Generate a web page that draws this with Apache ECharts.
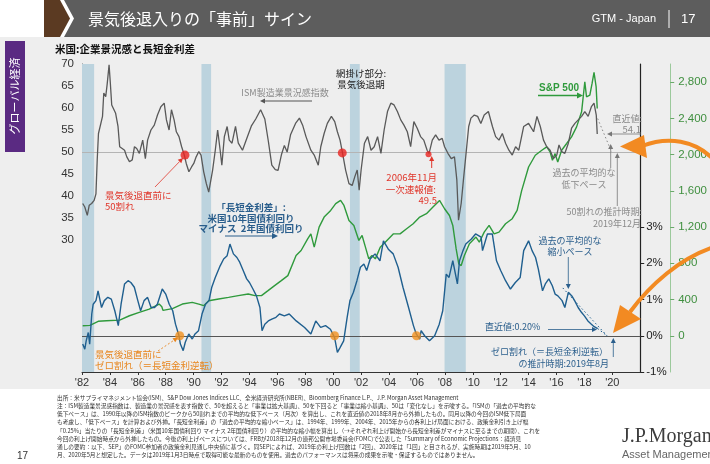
<!DOCTYPE html>
<html><head><meta charset="utf-8">
<script src="https://cdn.jsdelivr.net/npm/echarts@6/dist/echarts.min.js"></script>
<style>html,body{margin:0;padding:0;background:#f1f1f1;}#c{width:710px;height:464px;}</style>
</head><body><div id="c"></div>
<script>
// ---------------- DATA ----------------
const xTickYears = [1982,1984,1986,1988,1990,1992,1994,1996,1998,2000,2002,2004,2006,2008,2010,2012,2014,2016,2018,2020];
const ismTicks = [30,35,40,45,50,55,60,65,70];
const spreadTicks = [-1,0,1,2,3];
const spxTicks = [0,400,800,1200,1600,2000,2400,2800];

const recessionStart = [1982.0, 1990.56, 2001.2, 2007.98];
const recessionEnd   = [1982.87, 1991.25, 2001.9, 2009.5];

// ISM manufacturing index (left axis)
const ismYears = [1982.05,1982.2,1982.38,1982.52,1982.69,1982.87,1983.0,1983.09,1983.18,1983.32,1983.47,1983.56,1983.7,1983.8,1983.94,1984.03,1984.13,1984.27,1984.41,1984.58,1984.7,1984.88,1985.05,1985.21,1985.4,1985.6,1985.76,1985.92,1986.11,1986.35,1986.54,1986.7,1986.94,1987.18,1987.41,1987.65,1987.89,1988.05,1988.24,1988.41,1988.6,1988.76,1988.95,1989.14,1989.33,1989.47,1989.66,1989.85,1990.01,1990.18,1990.37,1990.53,1990.72,1990.91,1991.08,1991.2,1991.36,1991.55,1991.72,1991.9,1992.02,1992.2,1992.4,1992.55,1992.75,1993.0,1993.2,1993.5,1993.8,1994.15,1994.45,1994.8,1995.1,1995.35,1995.6,1995.85,1996.05,1996.3,1996.5,1996.7,1996.95,1997.3,1997.58,1997.81,1998.05,1998.4,1998.64,1998.93,1999.11,1999.35,1999.58,1999.87,2000.11,2000.3,2000.49,2000.65,2000.89,2001.13,2001.36,2001.55,2001.72,2001.86,2002.0,2002.24,2002.47,2002.71,2002.94,2003.18,2003.42,2003.65,2003.89,2004.13,2004.36,2004.6,2004.84,2005.07,2005.31,2005.55,2005.78,2006.02,2006.26,2006.49,2006.73,2006.87,2007.1,2007.34,2007.58,2007.81,2007.98,2008.22,2008.46,2008.69,2008.86,2008.98,2009.17,2009.33,2009.52,2009.71,2009.87,2010.11,2010.35,2010.58,2010.82,2011.12,2011.41,2011.64,2011.88,2012.12,2012.35,2012.59,2012.83,2013.07,2013.3,2013.65,2014.0,2014.36,2014.6,2014.84,2015.07,2015.3,2015.54,2015.78,2016.02,2016.18,2016.37,2016.6,2016.85,2017.08,2017.32,2017.56,2017.8,2018.03,2018.27,2018.5,2018.69,2018.85,2018.92];
const ismValues = [38.3,37.5,35.6,37.9,38.3,39.0,40.5,48.2,54.2,54.6,58.1,63.4,62.6,65.3,69.8,65.7,60.7,61.1,58.8,55.8,51.2,50.8,50.4,48.9,47.8,48.2,51.2,50.8,49.7,52.7,48.5,52.7,55.0,56.1,58.4,60.3,61.1,57.3,55.0,59.6,57.3,54.6,53.5,51.2,49.3,47.4,45.5,46.6,47.4,48.9,50.1,49.3,45.5,42.8,40.9,41.3,45.9,50.4,55.0,50.4,47.0,53.5,55.8,52.7,52.0,55.8,52.0,50.4,53.0,56.0,57.5,59.6,57.5,52.5,47.0,46.0,45.8,49.5,51.5,50.0,54.0,56.5,57.7,56.1,53.5,50.4,49.3,47.0,51.2,54.2,56.5,58.1,56.9,54.6,52.7,50.1,45.9,42.8,42.4,44.4,45.9,41.3,45.9,52.0,53.5,50.4,51.2,53.5,49.7,55.0,59.2,61.1,60.7,59.2,57.3,56.1,54.6,51.2,56.9,55.4,53.5,52.7,50.4,49.7,52.7,53.9,52.7,53.1,51.2,49.7,48.5,48.9,43.6,34.5,38.3,43.6,49.7,55.8,57.7,58.4,58.1,56.5,58.4,59.2,55.8,53.5,52.7,54.2,52.0,50.4,49.3,51.2,50.4,55.8,56.5,54.6,58.1,55.8,52.7,51.2,50.4,48.5,49.3,51.6,50.1,49.7,52.0,55.4,56.5,57.3,58.1,59.2,58.1,60.3,61.1,58.4,54.1];

// S&P 500 (outer right axis)
const spxYears = [1982.05,1982.57,1983.16,1983.75,1984.7,1985.4,1986.1,1986.82,1987.53,1987.72,1987.8,1988.48,1989.19,1989.9,1990.37,1990.72,1991.08,1991.79,1992.5,1993.2,1993.91,1994.39,1994.86,1995.33,1995.8,1996.28,1996.75,1997.34,1997.7,1998.17,1998.4,1998.64,1998.99,1999.35,1999.82,2000.18,2000.53,2000.77,2001.13,2001.48,2001.84,2002.07,2002.31,2002.55,2002.78,2003.02,2003.37,2003.85,2004.32,2004.79,2005.26,2005.73,2006.2,2006.68,2007.15,2007.62,2007.98,2008.33,2008.57,2008.81,2009.0,2009.17,2009.4,2009.76,2010.23,2010.47,2010.82,2011.17,2011.53,2011.88,2012.35,2012.83,2013.18,2013.5,2014.0,2014.48,2014.95,2015.3,2015.54,2015.71,2015.9,2016.09,2016.37,2016.73,2017.08,2017.44,2017.8,2018.03,2018.15,2018.39,2018.55,2018.69,2018.84,2018.92];
const spxValues = [110,115,160,166,173,221,258,295,350,321,280,300,350,369,350,332,387,406,424,443,461,443,443,498,554,609,664,886,941,1070,1125,978,1199,1310,1384,1458,1494,1439,1273,1218,1052,1107,978,849,886,849,978,1052,1125,1125,1181,1236,1310,1347,1421,1494,1402,1328,1218,959,793,775,886,1015,1089,1033,1144,1218,1125,1144,1236,1292,1384,1600,1863,1993,2048,2085,2030,1937,2011,1919,2048,2122,2196,2306,2472,2804,2638,2657,2786,2908,2749,2509];

// 10y - 2y spread, % (inner right axis)
const spreadYears = [1982.05,1982.2,1982.3,1982.45,1982.55,1982.7,1982.8,1983.0,1983.15,1983.4,1983.6,1983.85,1984.1,1984.35,1984.6,1984.8,1985.05,1985.3,1985.5,1985.75,1986.0,1986.2,1986.45,1986.7,1986.95,1987.2,1987.4,1987.75,1988.0,1988.25,1988.5,1988.7,1988.95,1989.05,1989.25,1989.4,1989.65,1989.9,1990.1,1990.35,1990.6,1990.85,1991.1,1991.3,1991.55,1991.9,1992.15,1992.4,1992.6,1992.85,1993.1,1993.3,1993.55,1993.8,1994.0,1994.25,1994.5,1994.75,1994.9,1995.1,1995.35,1995.6,1995.9,1996.15,1996.5,1996.85,1997.35,1997.95,1998.4,1998.75,1999.1,1999.45,1999.8,2000.1,2000.3,2000.5,2000.75,2001.0,2001.2,2001.45,2001.7,2001.95,2002.2,2002.4,2002.65,2003.0,2003.35,2003.6,2003.95,2004.3,2004.65,2005.0,2005.4,2005.75,2005.95,2006.2,2006.3,2006.55,2006.9,2007.27,2007.6,2007.85,2008.1,2008.3,2008.57,2008.9,2009.05,2009.3,2009.5,2009.9,2010.2,2010.6,2010.7,2011.05,2011.4,2011.7,2012.0,2012.35,2012.7,2013.05,2013.4,2013.65,2014.0,2014.25,2014.5,2014.7,2015.0,2015.2,2015.45,2015.7,2015.9,2016.1,2016.4,2016.6,2016.85,2017.1,2017.3,2017.55,2017.8,2018.0,2018.25,2018.5,2018.7,2018.95];
const spreadValues = [-0.23,-0.37,-0.14,0.09,-0.23,0.6,0.87,0.97,1.24,0.78,0.97,1.06,1.01,0.69,0.28,0.87,1.43,1.52,1.47,1.34,0.97,0.69,0.97,1.06,0.78,0.78,0.87,1.29,1.15,0.87,0.69,0.32,0.0,-0.23,-0.41,-0.18,0.05,-0.09,0.05,0.14,0.6,0.87,0.97,1.34,1.61,1.93,2.12,2.21,2.53,2.26,2.16,2.03,1.8,1.57,1.47,1.29,1.1,0.78,0.14,0.32,0.41,0.46,0.51,0.6,0.55,0.6,0.41,0.23,0.05,0.41,0.23,0.28,0.18,-0.05,-0.46,-0.32,-0.14,0.51,0.97,1.2,1.52,1.89,1.98,1.8,2.12,2.26,2.07,2.62,2.39,2.26,1.89,1.34,0.78,0.28,0.05,-0.09,0.14,0.0,-0.14,0.0,0.32,0.69,1.7,1.61,2.07,1.43,2.07,2.35,2.53,2.67,2.81,2.72,2.35,2.81,2.81,2.07,1.8,1.52,1.29,1.47,1.61,2.35,2.62,2.35,2.16,1.84,1.24,1.43,1.57,1.38,1.15,1.1,0.97,0.78,1.2,1.1,0.97,0.78,0.64,0.55,0.41,0.32,0.25,0.2];

// markers
const ismRedYears = [1989.38, 2000.65];
const ismRedValues = [49.3, 49.8];
const ism2006Year = [2006.83];
const ism2006Value = [49.5];
const zeroCrossYears = [1989.0, 2000.1, 2005.97];
const zeroCrossValues = [0, 0, 0];

// projections
const ismProjYears = [2018.95, 2019.95];
const ismProjValues = [57.6, 50];
const spreadProjYears = [2018.95, 2019.62];
const spreadProjValues = [0.2, 0];
const spreadPaceYears = [2016.45, 2019.62];
const spreadPaceValues = [1.32, 0];

// ---------------- CHART ----------------
const zip = (a, b) => a.map((v, i) => [v, b[i]]);
const JP = '"Noto Sans CJK JP"';
const NUM = '"Liberation Sans", Arial';

const chart = echarts.init(document.getElementById('c'), null, {renderer: 'canvas'});

const G = [];
function txt(x, y, s, color, size, align, weight, family) {
  G.push({type: 'text', z: 50, style: {x, y, text: s, fill: color, font: (weight || 'normal') + ' ' + size + 'px ' + (family || JP), textAlign: align || 'left', textVerticalAlign: 'middle'}});
}
function arrow(x1, y1, x2, y2, color, w, head, dash) {
  const ang = Math.atan2(y2 - y1, x2 - x1);
  const h = head || 5;
  const bx = x2 - Math.cos(ang) * h, by = y2 - Math.sin(ang) * h;
  G.push({type: 'line', z: 50, shape: {x1, y1, x2: bx, y2: by}, style: {stroke: color, lineWidth: w, lineDash: dash || null}});
  const px = -Math.sin(ang) * h * 0.5, py = Math.cos(ang) * h * 0.5;
  G.push({type: 'polygon', z: 50, shape: {points: [[x2, y2], [bx + px, by + py], [bx - px, by - py]]}, style: {fill: color}});
}

// header
G.push({type: 'rect', z: 1, shape: {x: 0, y: 0, width: 710, height: 37}, style: {fill: '#ffffff'}});
G.push({type: 'polygon', z: 2, shape: {points: [[44,0],[60,0],[70,18.5],[60,37],[44,37]]}, style: {fill: '#5b3a22'}});
G.push({type: 'polygon', z: 2, shape: {points: [[64,0],[710,0],[710,37],[64,37],[74,18.5]]}, style: {fill: '#5d5d5d'}});
G.push({type: 'text', z: 3, style: {x: 88, y: 19, text: '景気後退入りの「事前」サイン', fill: '#ffffff', font: '16px ' + JP, textVerticalAlign: 'middle'}});
G.push({type: 'text', z: 3, style: {x: 656, y: 19, text: 'GTM - Japan', fill: '#ffffff', font: '11px "Liberation Sans Narrow", ' + NUM, textAlign: 'right', textVerticalAlign: 'middle'}});
G.push({type: 'line', z: 3, shape: {x1: 669, y1: 10, x2: 669, y2: 28}, style: {stroke: '#ffffff', lineWidth: 1}});
G.push({type: 'text', z: 3, style: {x: 681, y: 19, text: '17', fill: '#ffffff', font: '13px "Liberation Sans Narrow", ' + NUM, textVerticalAlign: 'middle'}});
// side tab
G.push({type: 'rect', z: 2, shape: {x: 5, y: 41, width: 20, height: 111}, style: {fill: '#5a2a82'}});
G.push({type: 'text', z: 3, rotation: Math.PI / 2, x: 15, y: 96, style: {x: 0, y: 0, text: 'グローバル経済', fill: '#ffffff', font: '11px ' + JP, textAlign: 'center', textVerticalAlign: 'middle'}});
// chart title
G.push({type: 'text', z: 3, style: {x: 55, y: 49, text: '米国:企業景況感と長短金利差', fill: '#111', font: 'bold 10.5px ' + JP, textVerticalAlign: 'middle'}});

// gray annotations
txt(285, 93, 'ISM製造業景況感指数', '#8a8a8a', 9, 'center');
arrow(312, 101, 260, 101, '#555', 1, 5);
txt(361, 73, '網掛け部分:', '#222', 9.5, 'center');
txt(361, 84, '景気後退期', '#222', 9.5, 'center');
txt(642, 119, '直近値:', '#8a8a8a', 9, 'right');
txt(641, 129, '54.1', '#8a8a8a', 9.5, 'right');
arrow(641, 134, 607, 134, '#777', 0.8, 5);
txt(584, 173, '過去の平均的な', '#8a8a8a', 9, 'center');
txt(584, 185, '低下ペース', '#8a8a8a', 9, 'center');
arrow(610.7, 168, 610.7, 144, '#777', 0.8, 5);
txt(642, 212, '50割れの推計時期:', '#8a8a8a', 9, 'right');
txt(641, 224, '2019年12月', '#8a8a8a', 9, 'right');
arrow(617.3, 206, 617.3, 153, '#777', 0.8, 5);

// S&P label
txt(559, 88, 'S&P 500', '#2f9a3c', 10, 'center', 'bold', NUM);
arrow(538, 95.5, 583, 95.5, '#2f9a3c', 1.3, 6);

// red annotations
txt(105, 195, '景気後退直前に', '#e0362b', 9.5, 'left');
txt(105, 206, '50割れ', '#e0362b', 9.5, 'left');
arrow(155, 187, 183, 158, '#e0362b', 0.8, 5);
txt(437, 177, '2006年11月', '#e0362b', 9.5, 'right');
txt(436, 189, '一次速報値:', '#e0362b', 9.5, 'right');
txt(437, 200, '49.5', '#e0362b', 9.5, 'right');
arrow(431.7, 168, 431.7, 156, '#e0362b', 1, 5);

// blue annotations
txt(251, 207, '「長短金利差」:', '#2a5e8c', 9.5, 'center', 'bold');
txt(251, 218, '米国10年国債利回り', '#2a5e8c', 9.5, 'center', 'bold');
txt(251, 228, 'マイナス  2年国債利回り', '#2a5e8c', 9.5, 'center', 'bold');
arrow(225, 236, 278, 236, '#2a5e8c', 1.2, 6);
txt(485, 327, '直近値:0.20%', '#2a5e8c', 9, 'left');
arrow(548, 329.5, 597, 329.5, '#2a5e8c', 0.8, 5);
txt(608, 352, 'ゼロ割れ（＝長短金利逆転）', '#2a5e8c', 9, 'right');
txt(609, 364, 'の推計時期:2019年8月', '#2a5e8c', 9, 'right');
arrow(613.3, 357, 613.3, 338, '#2a5e8c', 0.8, 5);
txt(570, 241, '過去の平均的な', '#2a5e8c', 9, 'center');
txt(570, 252, '縮小ペース', '#2a5e8c', 9, 'center');
arrow(568.3, 257, 568.3, 289, '#2a5e8c', 0.8, 5);

// orange annotations
txt(95, 354, '景気後退直前に', '#e8861e', 9.5, 'left');
txt(95, 365, 'ゼロ割れ（＝長短金利逆転）', '#e8861e', 9.5, 'left');
arrow(158, 351, 178, 337.5, '#e8861e', 0.9, 5, [2, 2]);

// big orange curved arrows
const OR = '#f28a22';
G.push({type: 'bezierCurve', z: 60, shape: {x1: 714, y1: 160, cpx1: 695, cpy1: 140, cpx2: 668, cpy2: 136, x2: 642, y2: 146}, style: {stroke: OR, lineWidth: 4, fill: null}});
G.push({type: 'polygon', z: 60, shape: {points: [[620, 146.5], [644, 135], [647, 158]]}, style: {fill: OR}});
G.push({type: 'bezierCurve', z: 60, shape: {x1: 714, y1: 247, cpx1: 680, cpy1: 258, cpx2: 650, cpy2: 285, x2: 630, y2: 312}, style: {stroke: OR, lineWidth: 4, fill: null}});
G.push({type: 'polygon', z: 60, shape: {points: [[613, 333], [620, 305], [641, 319]]}, style: {fill: OR}});

// footnotes
const notes = [
 '出所：米サプライマネジメント協会(ISM)、S&P Dow Jones Indices LLC、全米経済研究所(NBER)、Bloomberg Finance L.P.、J.P. Morgan Asset Management',
 '注：ISM製造業景況感指数は、製造業の景況感を表す指数で、50を超えると「事業は拡大基調」、50を下回ると「事業は縮小基調」、50は「変化なし」を示唆する。「ISMの「過去の平均的な',
 '低下ペース」は、1990年以降のISM指数のピークから50割れまでの平均的な低下ペース（月次）を算出し、これを直近値の2018年8月から外挿したもの。同月以降の今回のISM低下局面',
 'も考慮し、「低下ペース」を計算および外挿。「長短金利差」の「過去の平均的な縮小ペース」は、1994年、1999年、2004年、2015年からの各利上げ局面における、政策金利引き上げ幅',
 '「0.25%」当たりの「長短金利差」（米国10年国債利回り マイナス 2年国債利回り）の平均的な縮小幅を算出し（→それぞれ利上げ開始から長短金利差がマイナスに至るまでの期間）、これを',
 '今回の利上げ開始時点から外挿したもの。今後の利上げペースについては、FRBが2018年12月の連邦公開市場委員会(FOMC)で公表した「Summary of Economic Projections：経済見',
 '通しの要約：以下、SEP」のFOMC参加者の政策金利見通し中央値に基づく。同SEPによれば、2019年の利上げ回数は「2回」、2020年は「1回」と目されるが、実施時期は2019年5月、10',
 '月、2020年5月と想定した。データは2019年1月3日時点で取得可能な最新のものを使用。過去のパフォーマンスは将来の成果を示唆・保証するものではありません。'
];
G.push({type: 'rect', z: 1, shape: {x: 0, y: 389, width: 710, height: 75}, style: {fill: '#ffffff'}});
notes.forEach((s, i) => G.push({type: 'text', z: 3, style: {x: 57, y: 398 + i * 8.1, text: s, fill: '#333', font: '5.7px ' + JP, textVerticalAlign: 'middle'}}));
G.push({type: 'text', z: 3, style: {x: 17, y: 456, text: '17', fill: '#333', font: '10px ' + NUM, textVerticalAlign: 'middle'}});
G.push({type: 'text', z: 3, style: {x: 622, y: 437, text: 'J.P.Morgan', fill: '#3d3d3d', font: '20px "Liberation Serif", serif', textVerticalAlign: 'middle'}});
G.push({type: 'text', z: 3, style: {x: 622, y: 455, text: 'Asset Management', fill: '#666', font: '11px "Liberation Sans Narrow", ' + NUM, textVerticalAlign: 'middle'}});

const option = {
  animation: false,
  backgroundColor: '#eeeeee',
  grid: {left: 82, right: 63, top: 64, bottom: 92, containLabel: false},
  xAxis: {
    type: 'value', min: 1982, max: 2022, interval: 2,
    axisLine: {show: true, lineStyle: {color: '#333', width: 1}},
    axisTick: {show: true, length: 3, lineStyle: {color: '#333'}, customValues: xTickYears},
    axisLabel: {customValues: xTickYears, formatter: v => "'" + String(v).slice(2), color: '#333', fontSize: 11, fontFamily: NUM, margin: 5},
    splitLine: {show: false}
  },
  yAxis: [
    {type: 'value', min: 0, max: 70, interval: 5, position: 'left',
     axisLine: {show: true, lineStyle: {color: '#555'}}, axisTick: {show: false},
     axisLabel: {customValues: ismTicks, color: '#333', fontSize: 11.5, fontFamily: NUM, margin: 8},
     splitLine: {show: false}},
    {type: 'value', min: -1, max: 7.5, interval: 1, position: 'right',
     axisLine: {show: true, lineStyle: {color: '#222', width: 1.2}},
     axisTick: {show: true, length: 4, customValues: spreadTicks, lineStyle: {color: '#222'}},
     axisLabel: {customValues: spreadTicks, formatter: v => v + '%', color: '#222', fontSize: 11.5, fontFamily: NUM, margin: 6},
     splitLine: {show: false}},
    {type: 'value', min: -400, max: 3000, interval: 400, position: 'right', offset: 30,
     axisLine: {show: true, lineStyle: {color: '#9cc99c'}},
     axisTick: {show: true, length: 4, customValues: spxTicks, lineStyle: {color: '#6aaa6a'}},
     axisLabel: {customValues: spxTicks, formatter: v => v.toLocaleString('en-US'), color: '#3f8f3f', fontSize: 11.5, fontFamily: NUM, margin: 8},
     splitLine: {show: false}}
  ],
  series: [
    {type: 'line', name: 'recessions', yAxisIndex: 0, data: [], z: 1, silent: true,
     markArea: {silent: true, itemStyle: {color: '#bcd3de'}, label: {show: false},
       data: recessionStart.map((s, i) => [{xAxis: s}, {xAxis: recessionEnd[i]}])}},
    {type: 'line', name: 'ref50', yAxisIndex: 0, data: [], z: 2, silent: true,
     markLine: {silent: true, symbol: 'none', label: {show: false}, lineStyle: {color: '#b4b4b4', width: 1, type: 'solid'}, data: [{yAxis: 50}]}},
    {type: 'line', name: 'ref0', yAxisIndex: 1, data: [], z: 2, silent: true,
     markLine: {silent: true, symbol: 'none', label: {show: false}, lineStyle: {color: '#555', width: 1, type: 'solid'}, data: [{yAxis: 0}]}},
    {type: 'line', name: 'S&P 500', yAxisIndex: 2, data: zip(spxYears, spxValues), showSymbol: false, z: 5,
     lineStyle: {color: '#2f9a3c', width: 1.4}},
    {type: 'line', name: 'ISM', yAxisIndex: 0, data: zip(ismYears, ismValues), showSymbol: false, z: 6,
     lineStyle: {color: '#595959', width: 1.3}},
    {type: 'line', name: 'Spread', yAxisIndex: 1, data: zip(spreadYears, spreadValues), showSymbol: false, z: 7,
     lineStyle: {color: '#1f5f8f', width: 1.4}},
    {type: 'line', name: 'ISM proj', yAxisIndex: 0, data: zip(ismProjYears, ismProjValues), showSymbol: false, z: 7,
     lineStyle: {color: '#888', width: 1, type: [1.5, 2.5]}},
    {type: 'line', name: 'Spread proj', yAxisIndex: 1, data: zip(spreadProjYears, spreadProjValues), showSymbol: false, z: 7,
     lineStyle: {color: '#1f5f8f', width: 1, type: [1.5, 2.5]}},
    {type: 'line', name: 'Spread pace', yAxisIndex: 1, data: zip(spreadPaceYears, spreadPaceValues), showSymbol: false, z: 7,
     lineStyle: {color: '#1f5f8f', width: 1, type: [1.5, 2.5]}},
    {type: 'scatter', yAxisIndex: 0, data: zip(ismRedYears, ismRedValues), symbolSize: 9, z: 9, itemStyle: {color: '#e8231f'}},
    {type: 'scatter', yAxisIndex: 0, data: zip(ism2006Year, ism2006Value), symbolSize: 6, z: 9, itemStyle: {color: '#e8231f'}},
    {type: 'scatter', yAxisIndex: 1, data: zip(zeroCrossYears, zeroCrossValues), symbolSize: 9, z: 9, itemStyle: {color: '#f0901e'}}
  ],
  graphic: G
};
chart.setOption(option);
</script></body></html>
